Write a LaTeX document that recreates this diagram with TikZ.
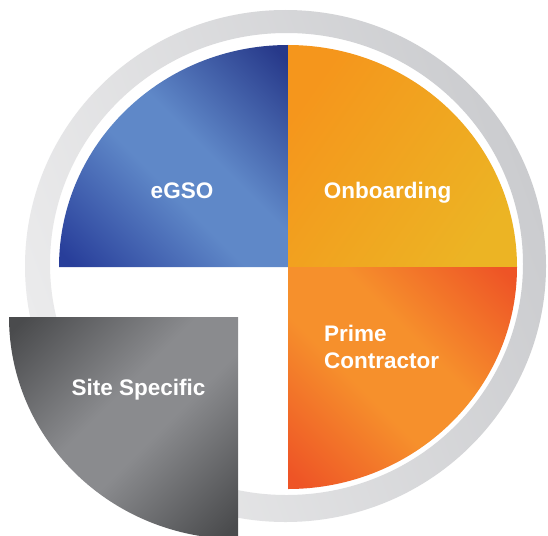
\documentclass[tikz,border=0pt]{standalone}
\usepackage{fontspec}
\setmainfont{Liberation Sans}
\definecolor{ringlight}{HTML}{EBEBEC}
\definecolor{ringdark}{HTML}{CBCCCF}
\definecolor{bluedark}{HTML}{27398A}
\definecolor{bluedarkb}{HTML}{283E9A}
\definecolor{bluelight}{HTML}{5F88C8}
\definecolor{golddark}{HTML}{F5961C}
\definecolor{goldlight}{HTML}{ECB424}
\definecolor{reddeep}{HTML}{EE5426}
\definecolor{redlight}{HTML}{F6902C}
\definecolor{graydark}{HTML}{4A4B4D}
\definecolor{graylight}{HTML}{8A8B8E}
% dark - light - dark bands with a broad, soft light middle
\pgfdeclarehorizontalshading{bluefade}{100bp}{color(0bp)=(bluedarkb); color(17bp)=(bluedarkb); color(44bp)=(bluelight); color(56bp)=(bluelight); color(83bp)=(bluedark); color(100bp)=(bluedark)}
\pgfdeclarehorizontalshading{redfade}{100bp}{color(0bp)=(reddeep); color(17bp)=(reddeep); color(42bp)=(redlight); color(58bp)=(redlight); color(83bp)=(reddeep); color(100bp)=(reddeep)}
\pgfdeclarehorizontalshading{grayfade}{100bp}{color(0bp)=(graydark); color(17bp)=(graydark); color(44bp)=(graylight); color(56bp)=(graylight); color(83bp)=(graydark); color(100bp)=(graydark)}
\begin{document}
\begin{tikzpicture}[x=1pt,y=1pt,
  label/.style={text=white,font=\fontsize{22.5}{27}\selectfont\bfseries,inner sep=0pt},
  ringshade/.style={top color=ringlight,bottom color=ringdark,shading angle=110},
  blueshade/.style={shading=bluefade,shading angle=45},
  goldshade/.style={top color=golddark,bottom color=goldlight,shading angle=55},
  redshade/.style={shading=redfade,shading angle=45},
  grayshade/.style={shading=grayfade,shading angle=-45}]
% page frame, in pixel units with y running downwards as negative values
\useasboundingbox (0,0) rectangle (548,-535);
\clip (0,0) rectangle (548,-535);
\fill[white] (0,0) rectangle (548,-535);
% grey ring around the chart
\shade[ringshade,even odd rule]
  (285.5,-266) ellipse[x radius=260.5,y radius=256]
  (286.5,-264) ellipse[x radius=236.5,y radius=231];
% the four segments
\coordinate (c) at (288,-267);
\coordinate (g) at (238,-317);
\shade[blueshade] (c) -- ++(-229,0) arc[start angle=180,end angle=90,x radius=229,y radius=222] -- cycle;
\shade[goldshade] (c) -- ++(0,222) arc[start angle=90,end angle=0,x radius=229,y radius=222] -- cycle;
\shade[redshade] (c) -- ++(229,0) arc[start angle=0,end angle=-90,x radius=229,y radius=222] -- cycle;
\shade[grayshade] (g) -- ++(-229,0) arc[start angle=180,end angle=270,x radius=229,y radius=222] -- cycle;
% segment labels
\node[label,anchor=base] (egso) at (182,-198) {eGSO};
\node[label,anchor=base] (onb) at (387.5,-198) {Onboarding};
\node[label,anchor=base west] (prime) at (324,-341) {Prime};
\node[label,anchor=base west] (contr) at (324,-368) {Contractor};
\node[label,anchor=base] (site) at (138.5,-395) {Site Specific};
\end{tikzpicture}
\end{document}
